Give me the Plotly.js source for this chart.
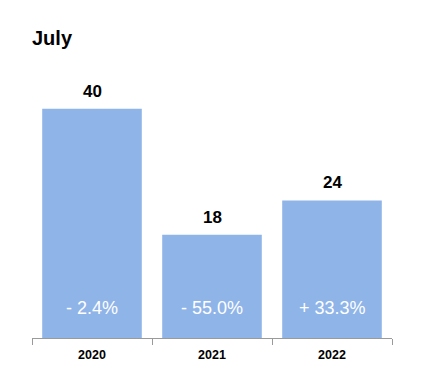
<!DOCTYPE html>
<html>
<head>
<meta charset="utf-8">
<script src="https://cdn.plot.ly/plotly-3.0.1.min.js"></script>
<style>html,body{margin:0;padding:0;background:#fff;}#chart{width:427px;height:375px;}</style>
</head>
<body>
<div id="chart"></div>
<script>
const years = ["2020", "2021", "2022"];
const values = [40, 18, 24];
const changes = ["- 2.4%", "- 55.0%", "+ 33.3%"];
const titleText = "July";

const FONT = "Liberation Sans, Arial, Helvetica, sans-serif";
const BAR = "#8FB4E8";

const trace = {
  type: "bar",
  x: years,
  y: values,
  width: 0.83,
  marker: {color: BAR, line: {width: 0}},
  hoverinfo: "none"
};

const topLabels = years.map((yr, i) => ({
  x: i, y: values[i], xref: "x", yref: "y",
  text: String(values[i]), showarrow: false,
  yanchor: "bottom", yshift: 6,
  font: {family: FONT, size: 17, color: "#000", weight: 700}
}));

const changeLabels = years.map((yr, i) => ({
  x: i, y: 0, xref: "x", yref: "y",
  text: changes[i], showarrow: false,
  yanchor: "bottom", yshift: 18,
  font: {family: FONT, size: 18, color: "#fff"}
}));

const layout = {
  width: 427, height: 375,
  margin: {l: 32, r: 35, t: 80, b: 37},
  paper_bgcolor: "#fff", plot_bgcolor: "#fff",
  showlegend: false,
  title: {text: titleText, x: 0, xref: "paper", xanchor: "left", y: 1, yref: "container", yanchor: "top", pad: {t: 31, l: 0},
          font: {family: FONT, size: 20, color: "#000", weight: 700}},
  xaxis: {
    type: "category", range: [-0.5, 2.5],
    showline: true, linecolor: "#9a9a9a", linewidth: 1,
    ticks: "outside", tickson: "boundaries", ticklen: 6, tickcolor: "#9a9a9a",
    ticklabelstandoff: 5,
    tickfont: {family: FONT, size: 12.5, color: "#000", weight: 700},
    showgrid: false, zeroline: false, fixedrange: true
  },
  yaxis: {
    range: [0, 45], visible: false, showgrid: false, zeroline: false, fixedrange: true
  },
  annotations: topLabels.concat(changeLabels)
};

Plotly.newPlot("chart", [trace], layout, {displayModeBar: false, staticPlot: true});
</script>
</body>
</html>
